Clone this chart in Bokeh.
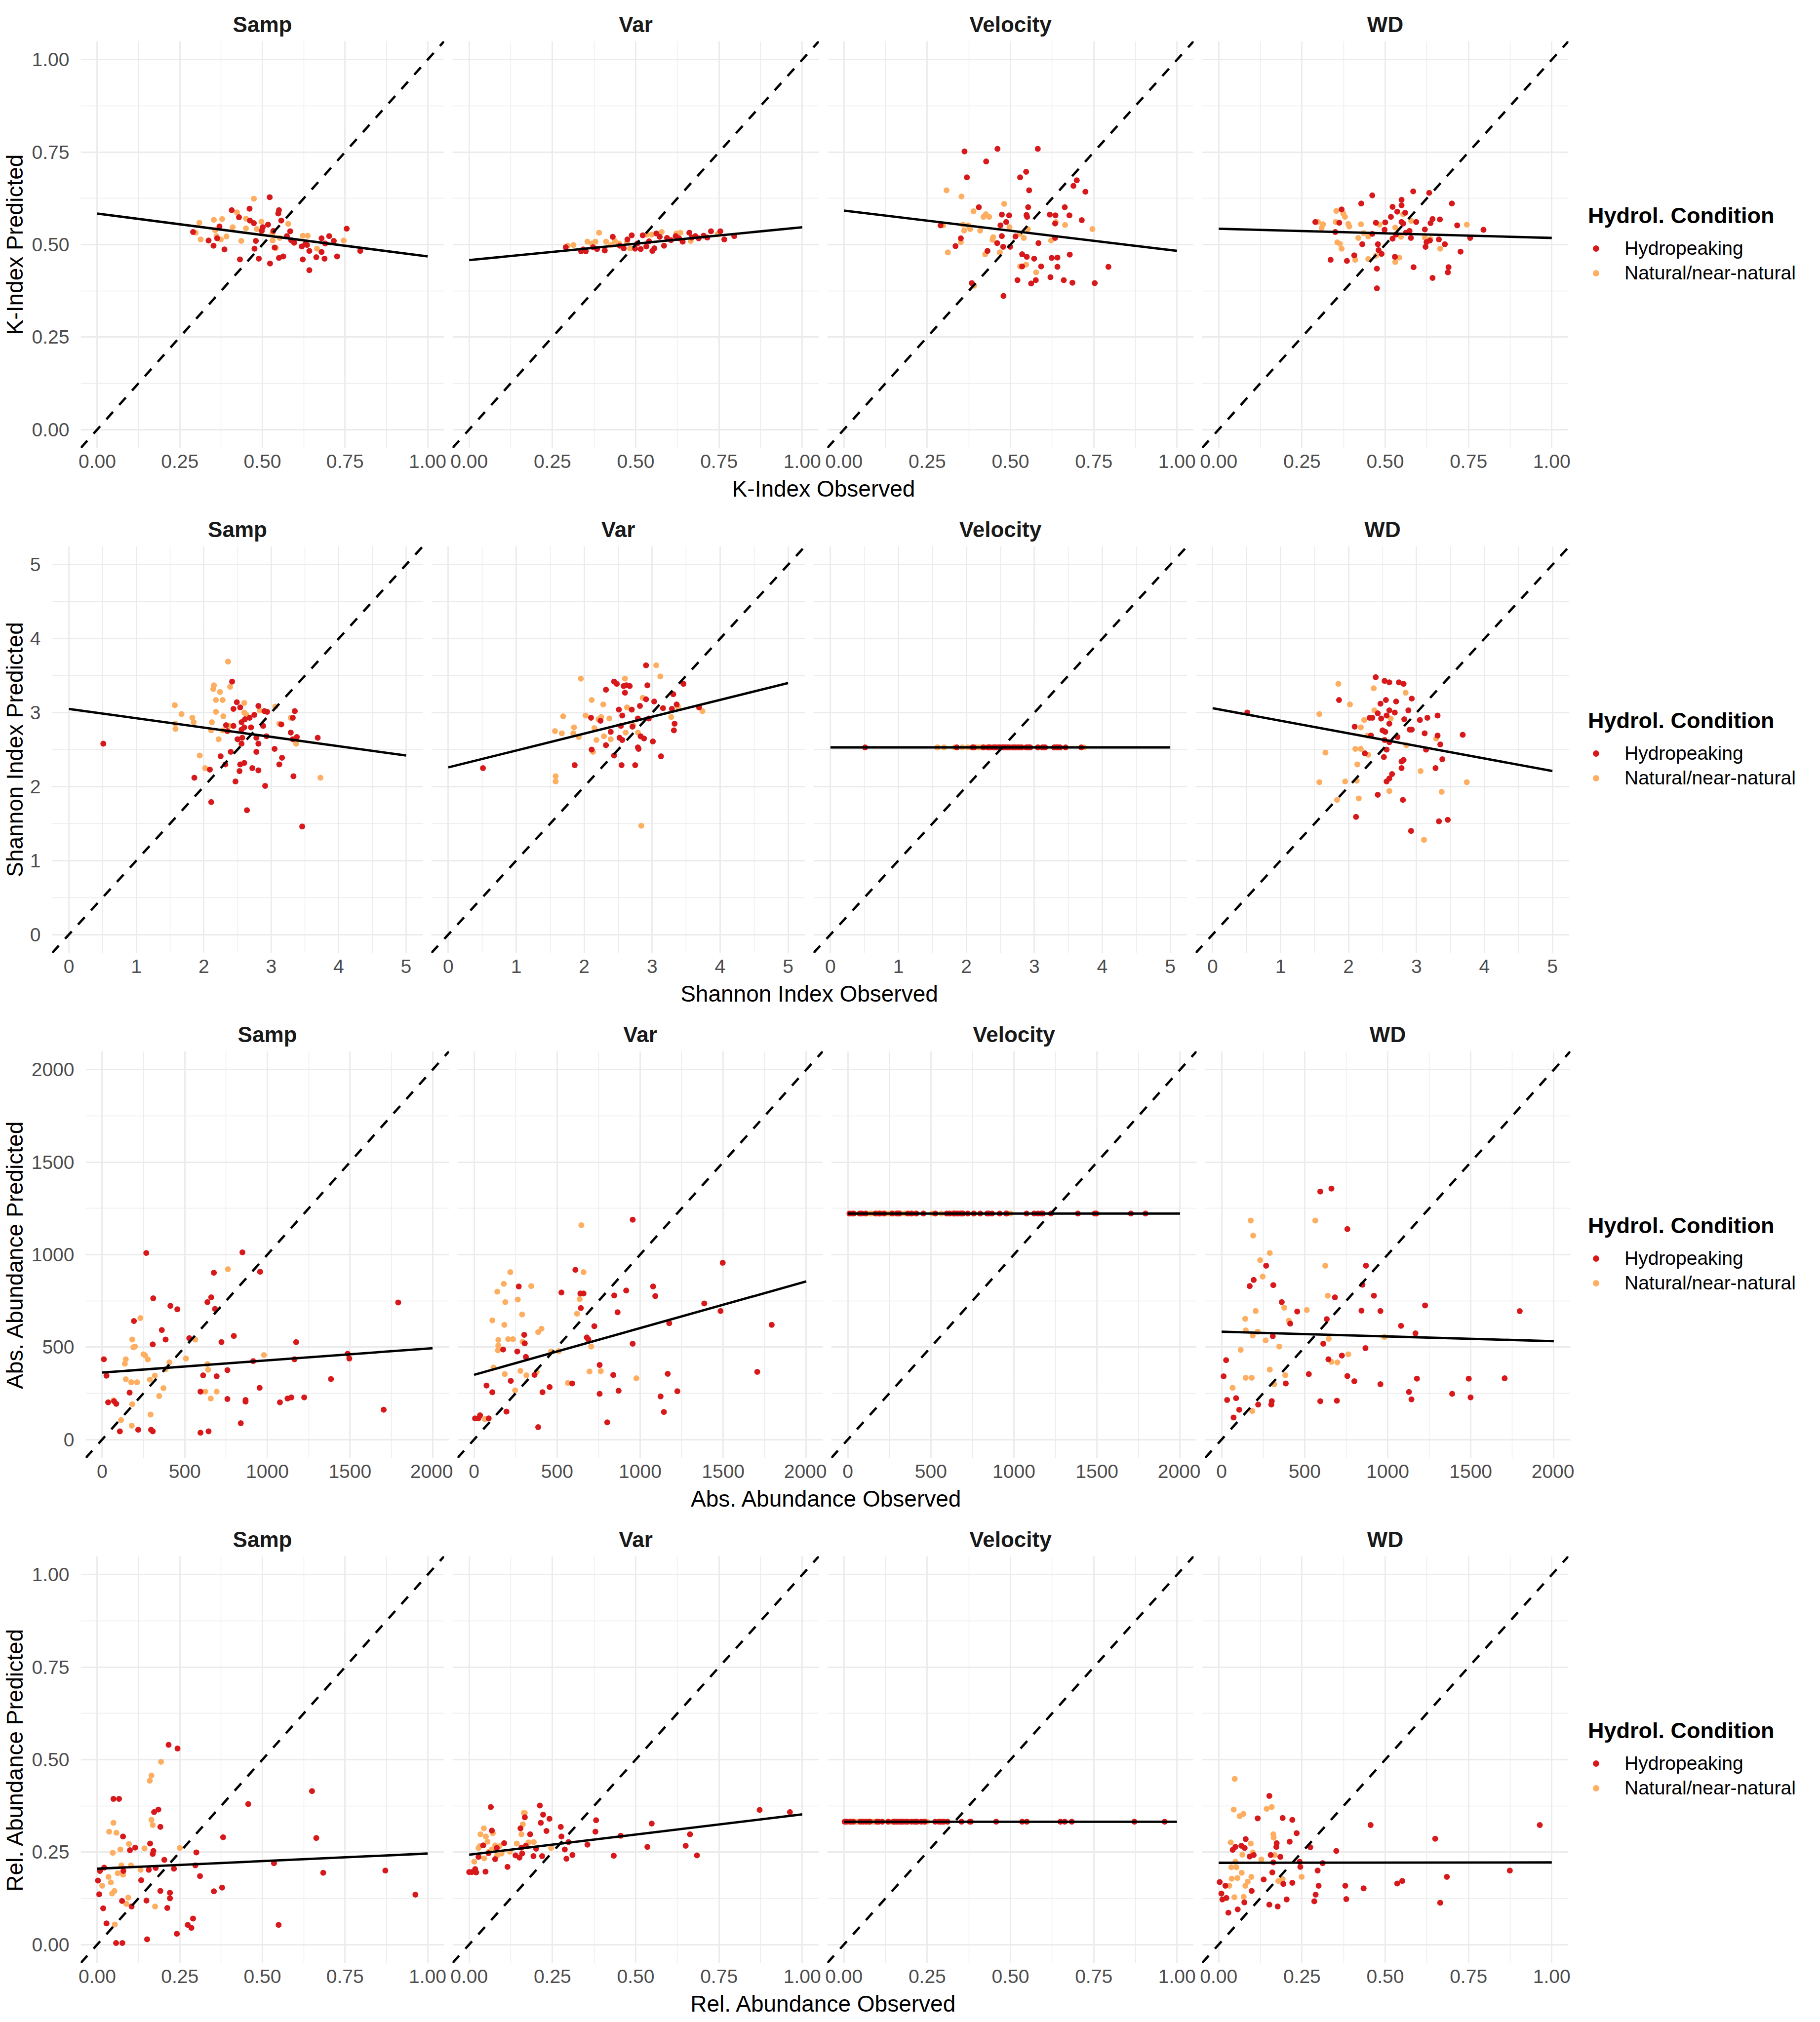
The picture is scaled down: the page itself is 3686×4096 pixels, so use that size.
from bokeh.plotting import figure
from bokeh.layouts import column, row
from bokeh.models import (Range1d, FixedTicker, Slope, Legend, LegendItem, Label,
                          NumeralTickFormatter)
from bokeh.embed import file_html
from bokeh.resources import INLINE

# ------------------------------------------------------------------ data
facets = ["Samp", "Var", "Velocity", "WD"]
groups = ["Hydropeaking", "Natural/near-natural"]
legend_title = "Hydrol. Condition"

k_ticks = [0, 0.25, 0.5, 0.75, 1.0]
k_minor = [0.125, 0.375, 0.625, 0.875]
shannon_ticks = [0, 1, 2, 3, 4, 5]
shannon_minor = [0.5, 1.5, 2.5, 3.5, 4.5]
abs_ticks = [0, 500, 1000, 1500, 2000]
abs_minor = [250, 750, 1250, 1750]
rel_ticks = [0, 0.25, 0.5, 0.75, 1.0]
rel_minor = [0.125, 0.375, 0.625, 0.875]

# regression line: x span and predicted values at both ends, per facet
k_line_x = [0, 1]
k_line_y = {"Samp": [0.584, 0.468], "Var": [0.458, 0.547], "Velocity": [0.592, 0.483], "WD": [0.543, 0.518]}
shannon_line_x = [0, 5]
shannon_line_y = {"Samp": [3.05, 2.42], "Var": [2.26, 3.40], "Velocity": [2.53, 2.53], "WD": [3.06, 2.21]}
abs_line_x = [0, 2000]
abs_line_y = {"Samp": [362, 494], "Var": [350, 855], "Velocity": [1222, 1222], "WD": [583, 532]}
rel_line_x = [0, 1]
rel_line_y = {"Samp": [0.205, 0.246], "Var": [0.243, 0.352], "Velocity": [0.332, 0.332], "WD": [0.221, 0.222]}

# ---- K-Index (observed, predicted)
k_samp_hydro = [(0.290,0.534),(0.337,0.511),(0.352,0.497),(0.363,0.517),(0.370,0.549),(0.385,0.487),(0.407,0.593),(0.429,0.574),(0.432,0.460),(0.461,0.597),(0.462,0.565),(0.474,0.558),(0.476,0.489),(0.480,0.510),(0.489,0.462),(0.498,0.537),(0.501,0.547),(0.517,0.554),(0.522,0.628),(0.523,0.449),(0.533,0.537),(0.537,0.492),(0.548,0.584),(0.550,0.593),(0.550,0.464),(0.557,0.565),(0.563,0.468),(0.574,0.523),(0.584,0.536),(0.587,0.512),(0.596,0.505),(0.619,0.495),(0.622,0.460),(0.630,0.502),(0.635,0.499),(0.642,0.483),(0.642,0.431),(0.663,0.466),(0.679,0.517),(0.679,0.480),(0.688,0.462),(0.690,0.503),(0.702,0.523),(0.716,0.510),(0.726,0.468),(0.755,0.543),(0.796,0.483)]
k_samp_natural = [(0.298,0.532),(0.309,0.559),(0.313,0.514),(0.353,0.567),(0.357,0.539),(0.361,0.523),(0.374,0.514),(0.378,0.569),(0.391,0.522),(0.410,0.547),(0.423,0.587),(0.436,0.510),(0.450,0.570),(0.450,0.544),(0.474,0.624),(0.483,0.542),(0.497,0.562),(0.530,0.530),(0.531,0.511),(0.541,0.491),(0.552,0.518),(0.578,0.556),(0.622,0.524),(0.637,0.524),(0.665,0.489),(0.746,0.511)]
k_var_hydro = [(0.290,0.493),(0.336,0.482),(0.342,0.487),(0.350,0.482),(0.372,0.493),(0.384,0.488),(0.407,0.484),(0.431,0.521),(0.452,0.497),(0.464,0.490),(0.475,0.514),(0.488,0.525),(0.498,0.489),(0.505,0.503),(0.515,0.488),(0.521,0.525),(0.532,0.495),(0.540,0.509),(0.550,0.483),(0.556,0.490),(0.562,0.530),(0.572,0.521),(0.585,0.497),(0.594,0.518),(0.606,0.512),(0.620,0.523),(0.630,0.517),(0.641,0.508),(0.661,0.532),(0.668,0.519),(0.679,0.523),(0.689,0.517),(0.704,0.524),(0.715,0.519),(0.726,0.536),(0.754,0.536),(0.766,0.514),(0.796,0.523)]
k_var_natural = [(0.296,0.497),(0.313,0.499),(0.355,0.508),(0.368,0.503),(0.379,0.508),(0.390,0.532),(0.411,0.508),(0.426,0.499),(0.437,0.510),(0.450,0.503),(0.474,0.506),(0.483,0.490),(0.533,0.527),(0.548,0.527),(0.578,0.534),(0.622,0.530),(0.634,0.532),(0.665,0.510),(0.746,0.528)]
k_vel_hydro = [(0.362,0.752),(0.461,0.759),(0.582,0.759),(0.427,0.725),(0.369,0.682),(0.529,0.682),(0.547,0.697),(0.556,0.647),(0.689,0.659),(0.699,0.674),(0.725,0.643),(0.405,0.601),(0.474,0.581),(0.496,0.579),(0.548,0.580),(0.553,0.601),(0.550,0.575),(0.618,0.581),(0.635,0.579),(0.663,0.601),(0.677,0.579),(0.714,0.566),(0.487,0.561),(0.470,0.552),(0.634,0.557),(0.290,0.552),(0.351,0.517),(0.474,0.523),(0.515,0.522),(0.634,0.518),(0.335,0.496),(0.460,0.504),(0.478,0.494),(0.499,0.494),(0.584,0.504),(0.431,0.483),(0.535,0.474),(0.549,0.467),(0.571,0.462),(0.624,0.464),(0.641,0.465),(0.678,0.473),(0.592,0.441),(0.641,0.440),(0.794,0.440),(0.384,0.396),(0.521,0.404),(0.576,0.404),(0.620,0.412),(0.660,0.404),(0.686,0.397),(0.562,0.395),(0.753,0.396),(0.479,0.361),(0.535,0.441)]
k_vel_natural = [(0.308,0.647),(0.353,0.630),(0.389,0.590),(0.419,0.575),(0.426,0.582),(0.436,0.575),(0.481,0.610),(0.298,0.552),(0.357,0.554),(0.373,0.552),(0.379,0.542),(0.361,0.538),(0.409,0.538),(0.497,0.547),(0.552,0.542),(0.636,0.561),(0.664,0.553),(0.746,0.542),(0.448,0.520),(0.446,0.513),(0.528,0.529),(0.540,0.518),(0.622,0.511),(0.351,0.507),(0.312,0.479),(0.424,0.474),(0.468,0.479),(0.529,0.441),(0.547,0.446),(0.577,0.425),(0.391,0.389)]
k_wd_hydro = [(0.290,0.561),(0.336,0.459),(0.350,0.534),(0.362,0.559),(0.369,0.595),(0.385,0.456),(0.407,0.471),(0.428,0.611),(0.431,0.501),(0.461,0.633),(0.461,0.529),(0.472,0.559),(0.475,0.435),(0.475,0.382),(0.478,0.501),(0.480,0.485),(0.489,0.475),(0.498,0.540),(0.500,0.560),(0.517,0.575),(0.522,0.602),(0.522,0.516),(0.529,0.467),(0.532,0.527),(0.536,0.589),(0.549,0.621),(0.549,0.606),(0.549,0.561),(0.554,0.557),(0.560,0.586),(0.562,0.532),(0.573,0.537),(0.577,0.518),(0.584,0.644),(0.585,0.439),(0.593,0.561),(0.619,0.541),(0.621,0.494),(0.624,0.507),(0.632,0.640),(0.634,0.511),(0.636,0.558),(0.642,0.410),(0.642,0.569),(0.661,0.514),(0.664,0.568),(0.679,0.501),(0.690,0.439),(0.688,0.425),(0.700,0.611),(0.716,0.552),(0.726,0.481),(0.755,0.518),(0.795,0.540)]
k_wd_natural = [(0.298,0.561),(0.313,0.555),(0.309,0.545),(0.351,0.561),(0.353,0.591),(0.374,0.584),(0.379,0.575),(0.389,0.556),(0.392,0.549),(0.356,0.506),(0.364,0.502),(0.369,0.489),(0.410,0.459),(0.427,0.555),(0.419,0.518),(0.435,0.531),(0.449,0.522),(0.449,0.461),(0.472,0.470),(0.483,0.554),(0.530,0.546),(0.547,0.521),(0.530,0.453),(0.542,0.465),(0.554,0.582),(0.578,0.564),(0.619,0.519),(0.636,0.515),(0.665,0.489),(0.745,0.554)]

# ---- Shannon Index (observed, predicted)
shannon_samp_hydro = [(0.51,2.58),(1.86,2.12),(2.09,2.23),(2.11,1.79),(2.25,2.41),(2.32,2.30),(2.33,2.83),(2.35,2.75),(2.40,2.47),(2.42,3.42),(2.44,2.82),(2.44,3.05),(2.47,2.07),(2.49,3.14),(2.50,2.64),(2.53,2.21),(2.54,2.30),(2.54,3.07),(2.56,2.58),(2.56,2.77),(2.56,2.87),(2.57,2.66),(2.60,2.32),(2.60,2.80),(2.61,2.91),(2.64,1.68),(2.68,2.93),(2.70,2.80),(2.72,2.25),(2.75,2.97),(2.78,2.66),(2.78,2.47),(2.81,2.58),(2.81,2.22),(2.81,3.09),(2.88,2.82),(2.91,2.01),(2.90,3.02),(2.94,3.01),(2.93,2.68),(3.05,2.51),(3.12,2.30),(3.15,2.84),(3.16,2.39),(3.29,2.73),(3.32,2.93),(3.32,2.64),(3.33,2.14),(3.35,3.02),(3.38,2.67),(3.46,1.46),(3.69,2.66)]
shannon_samp_natural = [(1.57,3.10),(1.58,2.85),(1.58,2.78),(1.67,2.98),(1.83,2.93),(1.85,2.87),(1.94,2.42),(2.02,2.25),(2.11,2.76),(2.12,2.87),(2.14,3.32),(2.15,3.37),(2.18,3.17),(2.18,3.01),(2.22,2.64),(2.24,3.28),(2.28,3.17),(2.29,2.95),(2.28,2.76),(2.36,3.69),(2.39,3.35),(2.38,2.82),(2.60,3.13),(2.63,2.97),(2.60,3.00),(2.83,3.03),(3.06,3.08),(3.12,2.85),(3.29,2.93),(3.37,2.58),(3.73,2.12)]
shannon_var_hydro = [(0.51,2.25),(1.86,2.29),(2.10,2.93),(2.11,2.50),(2.24,2.89),(2.32,3.31),(2.32,2.56),(2.39,2.74),(2.44,3.42),(2.44,2.42),(2.48,3.39),(2.51,3.04),(2.52,2.66),(2.54,2.82),(2.55,2.29),(2.56,2.96),(2.56,2.63),(2.58,3.36),(2.60,3.27),(2.62,3.37),(2.67,3.36),(2.70,3.04),(2.71,2.81),(2.75,2.29),(2.79,2.92),(2.79,2.53),(2.80,2.51),(2.82,3.09),(2.83,2.68),(2.88,2.65),(2.91,3.64),(2.91,3.18),(2.93,3.37),(2.95,2.92),(3.01,2.61),(3.03,3.15),(3.13,2.41),(3.16,3.06),(3.29,3.05),(3.31,3.25),(3.32,2.76),(3.33,2.85),(3.36,3.11),(3.46,3.39),(3.69,3.07)]
shannon_var_natural = [(1.57,2.75),(1.58,2.14),(1.58,2.07),(1.67,2.72),(1.69,2.95),(1.85,2.80),(1.84,2.72),(1.92,2.67),(1.95,3.46),(2.02,2.96),(2.11,3.17),(2.13,2.47),(2.15,2.79),(2.18,2.63),(2.21,2.91),(2.25,2.94),(2.28,3.11),(2.29,2.68),(2.37,2.92),(2.39,2.64),(2.60,3.46),(2.61,2.73),(2.63,3.07),(2.72,2.83),(2.79,2.73),(2.84,1.47),(2.86,3.20),(3.06,3.64),(3.12,3.49),(3.28,2.94),(3.38,3.08),(3.74,3.02)]
shannon_vel_hydro = [(0.51,2.53),(1.86,2.53),(2.09,2.53),(2.11,2.53),(2.25,2.53),(2.32,2.53),(2.33,2.53),(2.35,2.53),(2.40,2.53),(2.42,2.53),(2.44,2.53),(2.47,2.53),(2.49,2.53),(2.50,2.53),(2.53,2.53),(2.54,2.53),(2.56,2.53),(2.57,2.53),(2.60,2.53),(2.61,2.53),(2.64,2.53),(2.68,2.53),(2.70,2.53),(2.72,2.53),(2.75,2.53),(2.78,2.53),(2.81,2.53),(2.88,2.53),(2.90,2.53),(2.91,2.53),(2.93,2.53),(2.94,2.53),(3.05,2.53),(3.12,2.53),(3.15,2.53),(3.16,2.53),(3.29,2.53),(3.32,2.53),(3.33,2.53),(3.35,2.53),(3.38,2.53),(3.46,2.53),(3.69,2.53)]
shannon_vel_natural = [(1.57,2.53),(1.58,2.53),(1.67,2.53),(1.83,2.53),(1.85,2.53),(1.94,2.53),(2.02,2.53),(2.11,2.53),(2.14,2.53),(2.18,2.53),(2.22,2.53),(2.24,2.53),(2.28,2.53),(2.36,2.53),(2.39,2.53),(2.60,2.53),(2.63,2.53),(2.83,2.53),(3.06,2.53),(3.12,2.53),(3.29,2.53),(3.37,2.53),(3.73,2.53)]
shannon_wd_hydro = [(0.51,3.00),(1.86,3.17),(2.09,2.81),(2.11,1.59),(2.24,2.45),(2.31,2.93),(2.35,2.93),(2.33,2.69),(2.40,3.48),(2.43,2.99),(2.43,1.89),(2.47,3.12),(2.48,2.92),(2.50,2.76),(2.52,2.40),(2.53,3.43),(2.53,2.63),(2.54,2.74),(2.55,3.17),(2.56,2.96),(2.56,2.50),(2.56,2.07),(2.60,3.03),(2.60,2.85),(2.60,3.41),(2.60,2.60),(2.60,2.11),(2.64,2.17),(2.68,3.00),(2.70,3.15),(2.72,2.67),(2.74,3.41),(2.78,2.34),(2.78,2.25),(2.80,1.82),(2.81,3.39),(2.81,2.36),(2.82,2.91),(2.88,3.03),(2.90,2.77),(2.92,1.40),(2.93,2.77),(2.93,3.19),(3.05,2.90),(3.12,2.72),(3.14,2.50),(3.16,2.93),(3.28,2.25),(3.31,2.96),(3.31,2.69),(3.33,1.53),(3.35,2.57),(3.38,2.37),(3.46,1.55),(3.68,2.70)]
shannon_wd_natural = [(1.57,2.98),(1.57,2.06),(1.66,2.46),(1.83,1.82),(1.85,3.39),(1.95,2.07),(2.02,3.11),(2.10,2.51),(2.12,2.08),(2.13,2.30),(2.15,1.84),(2.18,2.80),(2.18,2.51),(2.23,2.90),(2.28,2.69),(2.29,2.43),(2.37,3.33),(2.38,3.03),(2.60,1.94),(2.62,2.92),(2.84,3.27),(2.85,2.56),(3.06,2.21),(3.11,1.28),(3.29,2.65),(3.37,1.93),(3.74,2.06)]

# ---- Abs. Abundance (observed, predicted)
abs_samp_hydro = [(10,434),(26,345),(36,201),(72,207),(85,193),(107,44),(166,254),(192,641),(218,53),(267,1009),(296,53),(306,44),(306,515),(309,764),(361,592),(384,541),(413,723),(455,704),(527,548),(595,37),(595,259),(611,347),(637,743),(644,44),(660,769),(676,902),(683,706),(693,342),(722,527),(758,375),(758,219),(797,560),(839,88),(849,1012),(868,214),(868,205),(914,424),(953,280),(956,907),(1076,201),(1122,222),(1145,228),(1164,434),(1174,527),(1223,228),(1385,327),(1486,464),(1496,438),(1704,161),(1792,741)]
abs_samp_natural = [(68,212),(114,105),(137,410),(143,434),(143,326),(176,310),(179,75),(182,541),(182,191),(189,499),(198,503),(211,310),(231,657),(250,461),(260,455),(276,433),(289,324),(293,135),(319,345),(345,235),(371,278),(384,380),(407,417),(507,438),(563,541),(624,259),(637,408),(641,377),(657,222),(693,259),(761,921),(979,457)]
abs_var_hydro = [(6,114),(26,114),(36,131),(75,292),(88,114),(110,256),(175,487),(195,151),(221,317),(260,476),(269,828),(302,566),(305,520),(312,447),(364,350),(386,67),(412,256),(455,284),(526,795),(591,303),(610,918),(640,790),(643,711),(659,790),(679,552),(688,541),(724,613),(756,403),(756,247),(802,93),(838,349),(844,779),(864,688),(870,264),(916,806),(955,1189),(955,518),(1078,828),(1091,776),(1123,233),(1143,149),(1166,355),(1175,629),(1224,261),(1386,736),(1484,695),(1497,956),(1705,366),(1792,620)]
abs_var_natural = [(65,110),(110,644),(117,389),(140,800),(143,482),(146,508),(146,539),(179,842),(182,620),(188,743),(185,354),(205,543),(218,905),(234,543),(247,266),(263,757),(279,371),(289,676),(292,529),(315,347),(344,830),(377,366),(386,581),(406,599),(464,476),(510,478),(565,306),(620,680),(636,760),(646,1159),(659,905),(695,368),(705,503),(763,370),(977,331)]
abs_vel_hydro = [(10,1222),(26,1222),(36,1222),(72,1222),(85,1222),(107,1222),(166,1222),(192,1222),(218,1222),(267,1222),(296,1222),(306,1222),(309,1222),(361,1222),(384,1222),(413,1222),(455,1222),(527,1222),(595,1222),(611,1222),(637,1222),(644,1222),(660,1222),(676,1222),(683,1222),(693,1222),(722,1222),(758,1222),(797,1222),(839,1222),(849,1222),(868,1222),(914,1222),(953,1222),(956,1222),(1076,1222),(1122,1222),(1145,1222),(1164,1222),(1174,1222),(1223,1222),(1385,1222),(1486,1222),(1496,1222),(1704,1222),(1792,1222)]
abs_vel_natural = [(68,1222),(114,1222),(137,1222),(143,1222),(176,1222),(179,1222),(182,1222),(189,1222),(198,1222),(211,1222),(231,1222),(250,1222),(260,1222),(276,1222),(289,1222),(293,1222),(319,1222),(345,1222),(371,1222),(384,1222),(407,1222),(507,1222),(563,1222),(624,1222),(637,1222),(641,1222),(657,1222),(693,1222),(761,1222),(979,1222)]
abs_wd_hydro = [(12,342),(27,429),(33,214),(72,119),(87,224),(106,161),(169,830),(193,863),(220,189),(268,940),(302,208),(308,559),(311,835),(299,189),(362,743),(386,303),(413,627),(455,692),(525,354),(594,1341),(594,207),(612,518),(633,651),(643,434),(661,1357),(682,769),(694,210),(724,454),(757,1138),(757,343),(799,315),(842,697),(848,837),(869,940),(866,494),(917,778),(956,695),(956,299),(1080,615),(1128,257),(1143,217),(1167,574),(1176,329),(1225,725),(1388,247),(1488,329),(1499,228),(1704,331),(1795,694)]
abs_wd_natural = [(66,280),(115,485),(142,653),(145,590),(145,334),(175,1184),(181,334),(184,154),(187,562),(190,1103),(205,695),(217,583),(232,970),(247,881),(265,536),(290,1009),(290,378),(317,299),(347,503),(377,713),(383,348),(404,643),(513,700),(564,1184),(624,940),(639,778),(645,545),(661,420),(697,417),(763,461),(980,555)]

# ---- Rel. Abundance (observed, predicted)
rel_samp_hydro = [(0.002,0.173),(0.006,0.136),(0.008,0.199),(0.018,0.098),(0.021,0.208),(0.028,0.057),(0.049,0.394),(0.057,0.004),(0.066,0.394),(0.075,0.118),(0.076,0.004),(0.078,0.292),(0.079,0.199),(0.099,0.255),(0.104,0.103),(0.115,0.262),(0.133,0.174),(0.149,0.119),(0.151,0.014),(0.156,0.202),(0.160,0.273),(0.168,0.245),(0.170,0.253),(0.172,0.358),(0.177,0.207),(0.185,0.365),(0.191,0.318),(0.191,0.145),(0.203,0.229),(0.212,0.099),(0.216,0.540),(0.220,0.140),(0.220,0.125),(0.232,0.205),(0.241,0.029),(0.243,0.530),(0.274,0.053),(0.285,0.045),(0.290,0.070),(0.297,0.214),(0.300,0.249),(0.311,0.185),(0.353,0.144),(0.378,0.154),(0.381,0.290),(0.457,0.380),(0.535,0.220),(0.549,0.053),(0.650,0.415),(0.663,0.288),(0.684,0.194),(0.872,0.200),(0.963,0.135)]
rel_samp_natural = [(0.015,0.159),(0.034,0.183),(0.036,0.305),(0.041,0.168),(0.045,0.138),(0.047,0.248),(0.049,0.329),(0.052,0.145),(0.053,0.054),(0.058,0.302),(0.062,0.193),(0.070,0.257),(0.073,0.214),(0.078,0.189),(0.088,0.110),(0.094,0.127),(0.096,0.272),(0.102,0.214),(0.131,0.202),(0.143,0.260),(0.159,0.443),(0.164,0.457),(0.164,0.337),(0.168,0.323),(0.175,0.103),(0.193,0.494),(0.250,0.261)]
rel_var_hydro = [(0.000,0.196),(0.008,0.196),(0.018,0.204),(0.021,0.195),(0.028,0.237),(0.042,0.268),(0.049,0.197),(0.058,0.247),(0.065,0.372),(0.068,0.308),(0.078,0.231),(0.083,0.261),(0.105,0.274),(0.115,0.210),(0.139,0.241),(0.151,0.235),(0.154,0.314),(0.157,0.262),(0.159,0.246),(0.167,0.344),(0.170,0.267),(0.183,0.298),(0.193,0.239),(0.201,0.259),(0.212,0.376),(0.215,0.329),(0.219,0.239),(0.222,0.351),(0.232,0.307),(0.241,0.340),(0.275,0.318),(0.277,0.292),(0.287,0.257),(0.292,0.232),(0.298,0.277),(0.310,0.242),(0.355,0.270),(0.379,0.305),(0.381,0.336),(0.434,0.240),(0.455,0.294),(0.535,0.264),(0.548,0.327),(0.650,0.267),(0.663,0.298),(0.684,0.241),(0.872,0.364),(0.963,0.358)]
rel_var_natural = [(0.015,0.224),(0.028,0.261),(0.032,0.266),(0.034,0.298),(0.044,0.314),(0.045,0.233),(0.050,0.292),(0.055,0.278),(0.060,0.251),(0.068,0.257),(0.071,0.301),(0.078,0.268),(0.084,0.241),(0.091,0.266),(0.097,0.246),(0.122,0.251),(0.143,0.273),(0.157,0.298),(0.161,0.325),(0.164,0.356),(0.167,0.356),(0.178,0.276),(0.194,0.277),(0.246,0.261)]
rel_vel_hydro = [(0.002,0.332),(0.006,0.332),(0.008,0.332),(0.018,0.332),(0.021,0.332),(0.028,0.332),(0.049,0.332),(0.057,0.332),(0.066,0.332),(0.075,0.332),(0.078,0.332),(0.099,0.332),(0.104,0.332),(0.115,0.332),(0.133,0.332),(0.149,0.332),(0.151,0.332),(0.156,0.332),(0.160,0.332),(0.168,0.332),(0.172,0.332),(0.177,0.332),(0.185,0.332),(0.191,0.332),(0.203,0.332),(0.212,0.332),(0.216,0.332),(0.220,0.332),(0.232,0.332),(0.241,0.332),(0.243,0.332),(0.274,0.332),(0.285,0.332),(0.290,0.332),(0.297,0.332),(0.300,0.332),(0.311,0.332),(0.353,0.332),(0.378,0.332),(0.381,0.332),(0.457,0.332),(0.535,0.332),(0.549,0.332),(0.650,0.332),(0.663,0.332),(0.684,0.332),(0.872,0.332),(0.963,0.332)]
rel_vel_natural = [(0.015,0.332),(0.034,0.332),(0.036,0.332),(0.041,0.332),(0.045,0.332),(0.047,0.332),(0.052,0.332),(0.058,0.332),(0.062,0.332),(0.070,0.332),(0.073,0.332),(0.078,0.332),(0.088,0.332),(0.094,0.332),(0.096,0.332),(0.102,0.332),(0.131,0.332),(0.143,0.332),(0.159,0.332),(0.164,0.332),(0.168,0.332),(0.175,0.332),(0.193,0.332),(0.250,0.332)]
rel_wd_hydro = [(0.003,0.169),(0.008,0.138),(0.011,0.122),(0.020,0.159),(0.023,0.126),(0.029,0.086),(0.042,0.256),(0.050,0.264),(0.057,0.095),(0.068,0.267),(0.077,0.114),(0.078,0.261),(0.081,0.285),(0.093,0.238),(0.099,0.145),(0.105,0.242),(0.117,0.341),(0.135,0.176),(0.152,0.402),(0.152,0.108),(0.156,0.242),(0.161,0.195),(0.164,0.222),(0.173,0.264),(0.174,0.274),(0.177,0.103),(0.185,0.237),(0.192,0.342),(0.194,0.164),(0.204,0.122),(0.213,0.278),(0.221,0.337),(0.221,0.167),(0.234,0.301),(0.243,0.224),(0.245,0.210),(0.275,0.263),(0.287,0.117),(0.291,0.135),(0.297,0.200),(0.300,0.159),(0.312,0.220),(0.353,0.253),(0.380,0.159),(0.383,0.123),(0.435,0.152),(0.456,0.323),(0.536,0.165),(0.551,0.172),(0.650,0.286),(0.665,0.113),(0.685,0.183),(0.874,0.200),(0.964,0.323)]
rel_wd_natural = [(0.032,0.159),(0.036,0.276),(0.038,0.209),(0.039,0.178),(0.045,0.365),(0.047,0.128),(0.048,0.448),(0.050,0.224),(0.053,0.209),(0.056,0.180),(0.063,0.347),(0.069,0.194),(0.071,0.243),(0.074,0.353),(0.075,0.129),(0.080,0.159),(0.087,0.170),(0.096,0.273),(0.098,0.183),(0.102,0.249),(0.128,0.230),(0.144,0.367),(0.159,0.372),(0.164,0.298),(0.165,0.289),(0.168,0.242),(0.179,0.172),(0.192,0.177),(0.249,0.183)]

panel_data = {
    "k": {"Samp": (k_samp_hydro, k_samp_natural), "Var": (k_var_hydro, k_var_natural),
          "Velocity": (k_vel_hydro, k_vel_natural), "WD": (k_wd_hydro, k_wd_natural)},
    "shannon": {"Samp": (shannon_samp_hydro, shannon_samp_natural), "Var": (shannon_var_hydro, shannon_var_natural),
                "Velocity": (shannon_vel_hydro, shannon_vel_natural), "WD": (shannon_wd_hydro, shannon_wd_natural)},
    "abs": {"Samp": (abs_samp_hydro, abs_samp_natural), "Var": (abs_var_hydro, abs_var_natural),
            "Velocity": (abs_vel_hydro, abs_vel_natural), "WD": (abs_wd_hydro, abs_wd_natural)},
    "rel": {"Samp": (rel_samp_hydro, rel_samp_natural), "Var": (rel_var_hydro, rel_var_natural),
            "Velocity": (rel_vel_hydro, rel_vel_natural), "WD": (rel_wd_hydro, rel_wd_natural)},
}

# ------------------------------------------------------------------ style / layout
FONT = "Liberation Sans"
RED = "#D7191C"
ORANGE = "#FDAE61"
GRID = "#EBEBEB"
POINT_SIZE = 12
LINE_W = 4.8
TOTAL_W = 3686
PANEL_RIGHT = 3178
GAP_L, GAP_R = 9, 8
FRAME_TOP, FRAME_H = 83, 824
PANEL_H = 959
XT_H = 64
LEGEND_DX = 38      # legend box left, measured from the WD panel's right edge
LEGEND_DY = 280     # legend box offset, measured from the panel's bottom edge

rows_cfg = [
    dict(key="k", xlabel="K-Index Observed", ylabel="K-Index Predicted", lim=(-0.05, 1.05),
         ticks=k_ticks, minor=k_minor, fmt="0.00", line_x=k_line_x, line_y=k_line_y,
         panel_left=157, ylab_standoff=6),
    dict(key="shannon", xlabel="Shannon Index Observed", ylabel="Shannon Index Predicted", lim=(-0.25, 5.25),
         ticks=shannon_ticks, minor=shannon_minor, fmt="0", line_x=shannon_line_x, line_y=shannon_line_y,
         panel_left=99, ylab_standoff=2),
    dict(key="abs", xlabel="Abs. Abundance Observed", ylabel="Abs. Abundance Predicted", lim=(-100, 2100),
         ticks=abs_ticks, minor=abs_minor, fmt="0", line_x=abs_line_x, line_y=abs_line_y,
         panel_left=169, ylab_standoff=5),
    dict(key="rel", xlabel="Rel. Abundance Observed", ylabel="Rel. Abundance Predicted", lim=(-0.05, 1.05),
         ticks=rel_ticks, minor=rel_minor, fmt="0.00", line_x=rel_line_x, line_y=rel_line_y,
         panel_left=157, ylab_standoff=6),
]


def style_axis(ax):
    ax.axis_line_color = None
    ax.major_tick_line_color = None
    ax.minor_tick_line_color = None
    ax.major_label_text_font = FONT
    ax.major_label_text_font_size = "39px"
    ax.major_label_text_color = "#4D4D4D"


def blank_figure(width, height):
    f = figure(width=width, height=height, x_range=Range1d(0, width), y_range=Range1d(0, height),
               min_border=0, toolbar_location=None, output_backend="svg",
               x_axis_location=None, y_axis_location=None,
               background_fill_color="white", border_fill_color="white")
    f.outline_line_color = None
    f.xgrid.visible = False
    f.ygrid.visible = False
    return f


def build_row(cfg):
    W = int(round((PANEL_RIGHT - cfg["panel_left"] - 3 * (GAP_L + GAP_R)) / 4))
    used = cfg["panel_left"] + 4 * W + 3 * (GAP_L + GAP_R)   # right edge of the WD panel
    figs = []
    for j, facet in enumerate(facets):
        first = j == 0
        left = cfg["panel_left"] if first else GAP_L
        right = GAP_R
        p = figure(width=left + W + right, height=PANEL_H,
                   x_range=Range1d(*cfg["lim"]), y_range=Range1d(*cfg["lim"]),
                   output_backend="svg", toolbar_location=None, title=facet,
                   y_axis_location="left" if first else None,
                   min_border_left=left, min_border_right=right,
                   min_border_top=FRAME_TOP, min_border_bottom=PANEL_H - FRAME_TOP - FRAME_H,
                   background_fill_color="white", border_fill_color="white")
        p.outline_line_color = None
        p.title.align = "center"
        p.title.text_font = FONT
        p.title.text_font_size = "44px"
        p.title.text_font_style = "bold"
        p.title.text_color = "#1A1A1A"
        if "standoff" in p.title.properties():
            p.title.standoff = 19

        p.xaxis.ticker = FixedTicker(ticks=cfg["ticks"], minor_ticks=cfg["minor"])
        p.xaxis.formatter = NumeralTickFormatter(format=cfg["fmt"])
        style_axis(p.xaxis[0])
        p.xaxis.major_label_standoff = 7
        if first:
            p.yaxis.ticker = FixedTicker(ticks=cfg["ticks"], minor_ticks=cfg["minor"])
            p.yaxis.formatter = NumeralTickFormatter(format=cfg["fmt"])
            style_axis(p.yaxis[0])
            p.yaxis.major_label_standoff = 17
            p.yaxis.axis_label = cfg["ylabel"]
            p.yaxis.axis_label_text_font = FONT
            p.yaxis.axis_label_text_font_size = "46px"
            p.yaxis.axis_label_text_font_style = "normal"
            p.yaxis.axis_label_text_color = "black"
            p.yaxis.axis_label_standoff = cfg["ylab_standoff"]
        p.xgrid.ticker = FixedTicker(ticks=cfg["ticks"], minor_ticks=cfg["minor"])
        p.ygrid.ticker = FixedTicker(ticks=cfg["ticks"], minor_ticks=cfg["minor"])
        for g in (p.xgrid[0], p.ygrid[0]):
            g.grid_line_color = GRID
            g.grid_line_width = 2.8
            g.minor_grid_line_color = GRID
            g.minor_grid_line_width = 1.4

        hyd, nat = panel_data[cfg["key"]][facet]
        p.scatter([a for a, b in nat], [b for a, b in nat], size=POINT_SIZE,
                  fill_color=ORANGE, line_color=None)
        p.scatter([a for a, b in hyd], [b for a, b in hyd], size=POINT_SIZE,
                  fill_color=RED, line_color=None)
        p.line(cfg["line_x"], cfg["line_y"][facet], line_color="black", line_width=LINE_W)
        p.add_layout(Slope(gradient=1, y_intercept=0, line_color="black",
                           line_width=LINE_W, line_dash="20 19"))
        figs.append(p)

    # legend panel: its own small plot; the key glyphs carry no drawable position (NaN)
    leg_left = used + GAP_R
    lf = blank_figure(TOTAL_W - leg_left, PANEL_H)
    nan = float("nan")
    k_hyd = lf.scatter(x=[nan], y=[nan], size=POINT_SIZE, fill_color=RED, line_color=None)
    k_nat = lf.scatter(x=[nan], y=[nan], size=POINT_SIZE, fill_color=ORANGE, line_color=None)
    legend = Legend(items=[LegendItem(label=groups[0], renderers=[k_hyd]),
                           LegendItem(label=groups[1], renderers=[k_nat])],
                    title=legend_title,
                    location=(PANEL_RIGHT + LEGEND_DX - leg_left,
                              (PANEL_H - FRAME_TOP - FRAME_H) + LEGEND_DY),
                    orientation="vertical")
    legend.title_text_font = FONT
    legend.title_text_font_size = "45px"
    legend.title_text_font_style = "bold"
    legend.title_text_color = "black"
    legend.title_standoff = 18
    legend.label_text_font = FONT
    legend.label_text_font_size = "39px"
    legend.label_text_color = "black"
    legend.glyph_width = 32
    legend.glyph_height = 44
    legend.label_height = 44
    legend.label_standoff = 42
    legend.spacing = 6
    legend.padding = 10
    legend.margin = 0
    legend.border_line_color = None
    legend.background_fill_alpha = 0
    lf.add_layout(legend)
    figs.append(lf)

    xt = blank_figure(TOTAL_W, XT_H)
    cx = (cfg["panel_left"] + PANEL_RIGHT) / 2
    xt.add_layout(Label(x=cx, y=XT_H / 2 + 2, text=cfg["xlabel"], text_align="center",
                        text_baseline="middle", text_font=FONT, text_font_size="46px",
                        text_color="black"))
    return column(row(*figs, spacing=0), xt, spacing=0)


root = column(*[build_row(c) for c in rows_cfg], spacing=0)
open("out.html", "w").write(file_html(root, INLINE, title="Observed vs predicted"))
